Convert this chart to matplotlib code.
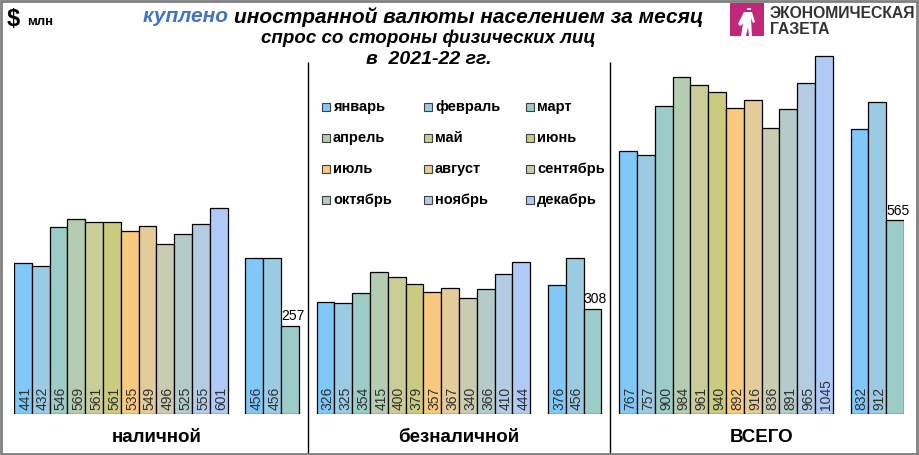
import numpy as np
import matplotlib.pyplot as plt
from matplotlib.patches import Rectangle, Polygon, Circle

months = ['январь', 'февраль', 'март', 'апрель', 'май', 'июнь',
          'июль', 'август', 'сентябрь', 'октябрь', 'ноябрь', 'декабрь']
colors = ['#80C8F8', '#9ACBE3', '#9BCCC8', '#B4CCAF', '#CCCC99', '#CBCB80',
          '#F9C980', '#E4CB9A', '#CBCBB2', '#B4CBC9', '#B3CBE3', '#B0CAF8']
groups = ['наличной', 'безналичной', 'ВСЕГО']

cash_2021 = [441, 432, 546, 569, 561, 561, 535, 549, 496, 525, 555, 601]
cash_2022 = [456, 456, 257]
noncash_2021 = [326, 325, 354, 415, 400, 379, 357, 367, 340, 366, 410, 444]
noncash_2022 = [376, 456, 308]
total_2021 = [767, 757, 900, 984, 961, 940, 892, 916, 836, 891, 965, 1045]
total_2022 = [832, 912, 565]

data_2021 = [cash_2021, noncash_2021, total_2021]
data_2022 = [cash_2022, noncash_2022, total_2022]

W, H = 919, 455
fig = plt.figure(figsize=(W / 100, H / 100), dpi=100)
NARROW = ['Liberation Sans Narrow', 'Liberation Sans']
plt.rcParams['font.family'] = ['Liberation Sans', 'DejaVu Sans']


def fx(px):
    return px / W


def fy(py):
    return 1 - py / H


# axes: bar slot -0.5 at x=14px, 49.5 at x=904px; baseline at y=414px
ax = fig.add_axes([fx(14), fy(414), fx(904) - fx(14), 414 / H])
ax.set_xlim(-0.5, 49.5)
ax.set_ylim(0, 414 / 0.3425)
ax.axis('off')

for g in range(3):
    base = g * 17
    x21 = base + np.arange(12)
    ax.bar(x21, data_2021[g], width=1.0, color=colors, edgecolor='black', linewidth=0.9)
    x22 = base + 13 + np.arange(3)
    ax.bar(x22, data_2022[g], width=1.0, color=colors[:3], edgecolor='black', linewidth=0.9)
    for xi, v in zip(list(x21) + list(x22[:2]), data_2021[g] + data_2022[g][:2]):
        ax.annotate(str(v), (xi, 0), xytext=(0.6, 3), textcoords='offset points',
                    rotation=90, rotation_mode='anchor', ha='left', va='center_baseline',
                    fontsize=10, color='#303030')
    ax.annotate(str(data_2022[g][2]), (x22[2] - 0.5, data_2022[g][2]), xytext=(0, 2),
                textcoords='offset points', ha='left', va='bottom', fontsize=10,
                color='black', family=NARROW)
    ax.text(base + 7.5, -70, groups[g], ha='center', va='center', fontsize=13.5,
            fontweight='bold', color='black')

for xs in (16, 33):
    ax.vlines(xs, -140, (414 - 62) / 0.3425, color='black', linewidth=1, clip_on=False)

# title
t1 = fig.text(fx(143), fy(17), 'куплено ', color='#4472C4', fontsize=15,
              fontweight='bold', fontstyle='italic', va='center', ha='left')
ax.annotate('иностранной валюты населением за месяц', xy=(1, 0.5), xycoords=t1,
            va='center', ha='left', fontsize=15, fontweight='bold', fontstyle='italic',
            color='black', annotation_clip=False)
fig.text(fx(428), fy(38), 'спрос со стороны физических лиц', fontsize=13.5,
         fontweight='bold', fontstyle='italic', ha='center', va='center')
fig.text(fx(429), fy(60), 'в  2021-22 гг.', fontsize=14,
         fontweight='bold', fontstyle='italic', ha='center', va='center')

fig.text(fx(7), fy(19), '$', fontsize=17, fontweight='bold', ha='left', va='center')
fig.text(fx(27), fy(22), 'млн', fontsize=9.5, fontweight='bold', ha='left', va='center')

# logo
fig.patches.append(Rectangle((fx(730), fy(36)), fx(34), 33 / H, transform=fig.transFigure,
                             facecolor='#C0267A', edgecolor='none'))
fig.patches.append(Circle((fx(749), fy(9)), 2.2 / W, transform=fig.transFigure,
                          facecolor='white', edgecolor='none'))
body = [(744, 12), (752, 12), (755, 22), (753, 23), (751, 18), (752, 36), (749, 36),
        (748, 27), (746, 36), (741, 36), (743, 24), (740, 26), (738, 24)]
fig.patches.append(Polygon([(fx(a), fy(b)) for a, b in body], closed=True,
                           transform=fig.transFigure, facecolor='white', edgecolor='none'))
fig.text(fx(770), fy(13), 'ЭКОНОМИЧЕСКАЯ', fontsize=11.3, fontweight='bold',
         color='#333333', ha='left', va='center')
fig.text(fx(770), fy(29), 'ГАЗЕТА', fontsize=11.3, fontweight='bold',
         color='#333333', ha='left', va='center')

# legend (row-major, 3 columns)
for i, (m, c) in enumerate(zip(months, colors)):
    r, col = divmod(i, 3)
    px = 322 + col * 102
    py = 107 + r * 31
    fig.patches.append(Rectangle((fx(px), fy(py + 4)), fx(8), 8 / H, transform=fig.transFigure,
                                 facecolor=c, edgecolor='#404040', linewidth=0.8))
    fig.text(fx(px + 11), fy(py), m, fontsize=10.5, fontweight='bold',
             ha='left', va='center', color='black')

# frame
fig.patches.append(Rectangle((0.001, 0.002), 0.997, 0.995, transform=fig.transFigure,
                             facecolor='none', edgecolor='#808080', linewidth=2))

fig.savefig('out.png', dpi=100)
